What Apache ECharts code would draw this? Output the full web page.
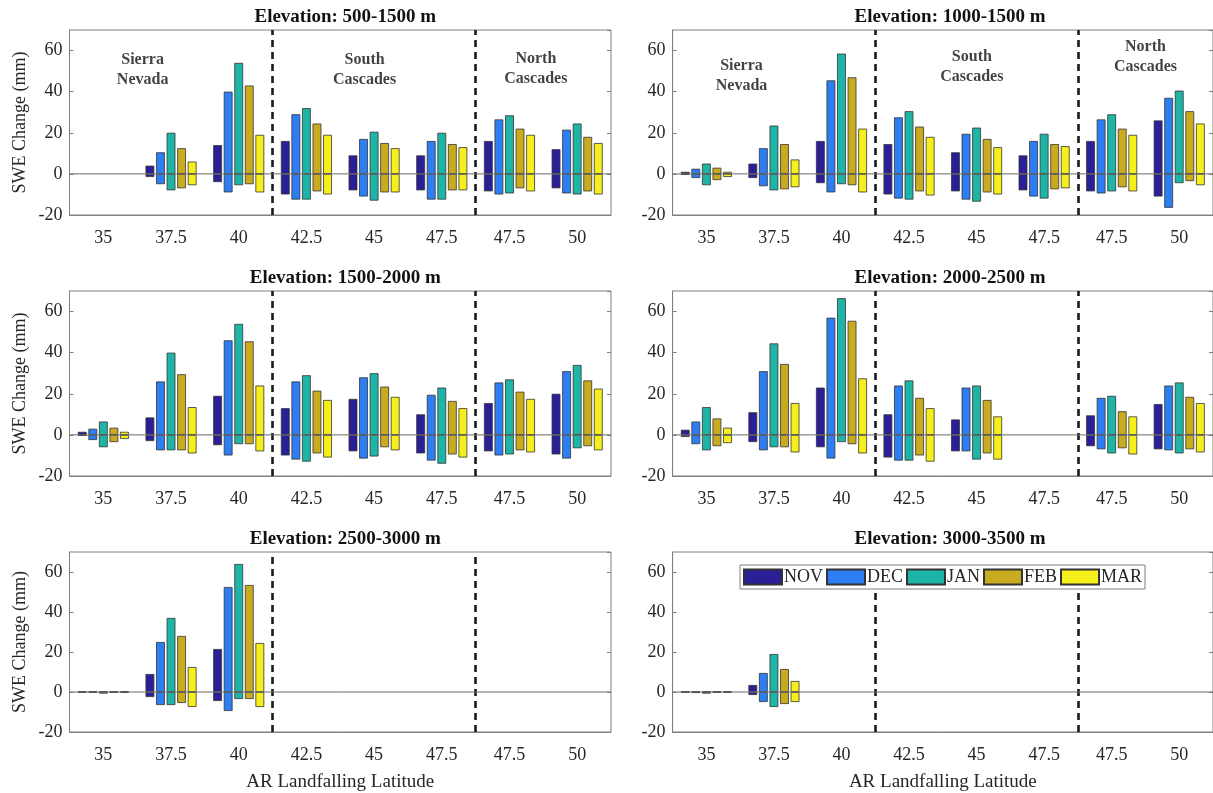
<!DOCTYPE html>
<html>
<head>
<meta charset="utf-8">
<script src="https://cdn.jsdelivr.net/npm/echarts@6/dist/echarts.min.js"></script>
<style>html,body{margin:0;padding:0;background:#fff}#c{width:1213px;height:793px}</style>
</head>
<body>
<div id="c"></div>
<script>
// ---- tick labels / categories ----
const categories = ['35', '37.5', '40', '42.5', '45', '47.5', '47.5', '50'];
const months = ['NOV', 'DEC', 'JAN', 'FEB', 'MAR'];
const panelTitles = ['Elevation: 500-1500 m', 'Elevation: 1000-1500 m', 'Elevation: 1500-2000 m',
                     'Elevation: 2000-2500 m', 'Elevation: 2500-3000 m', 'Elevation: 3000-3500 m'];
const yTicks = [-20, 0, 20, 40, 60];

// ---- series values: rows = NOV, DEC, JAN, FEB, MAR ; columns = categories ----
const pos_500_1500 = [
  [null, 4, 14, 16, 9, 9, 16, 12],
  [null, 10.5, 40, 29, 17, 16, 26.5, 21.5],
  [null, 20, 54, 32, 20.5, 20, 28.5, 24.5],
  [null, 12.5, 43, 24.5, 15, 14.5, 22, 18],
  [null, 6, 19, 19, 12.5, 13, 19, 15]
];
const neg_500_1500 = [
  [null, -1.5, -4, -10, -8, -8, -8.5, -7],
  [null, -5, -9, -12.5, -11, -12.5, -10, -9.5],
  [null, -8, -5.5, -12.5, -13, -12.5, -9.5, -10],
  [null, -7, -5, -8.5, -9, -8, -7, -8.5],
  [null, -5.5, -9, -10, -9, -8, -8.5, -10]
];
const pos_1000_1500 = [
  [1, 5, 16, 14.5, 10.5, 9, 16, 26],
  [2.5, 12.5, 45.5, 27.5, 19.5, 16, 26.5, 37],
  [5, 23.5, 58.5, 30.5, 22.5, 19.5, 29, 40.5],
  [3, 14.5, 47, 23, 17, 14.5, 22, 30.5],
  [1, 7, 22, 18, 13, 13.5, 19, 24.5]
];
const neg_1000_1500 = [
  [-0.5, -2, -4.5, -10, -8.5, -8, -8.5, -11],
  [-2, -6, -9, -12, -12.5, -11, -9.5, -16.5],
  [-5.5, -8, -5, -12.5, -13.5, -12, -8.5, -4.5],
  [-3, -7.5, -5.5, -8.5, -9, -7.5, -6.5, -3.5],
  [-1.5, -6.5, -9, -10.5, -10, -7, -8.5, -5.5]
];
const pos_1500_2000 = [
  [1.5, 8.5, 19, 13, 17.5, 10, 15.5, 20],
  [3, 26, 46, 26, 28, 19.5, 25.5, 31],
  [6.5, 40, 54, 29, 30, 23, 27, 34],
  [3.5, 29.5, 45.5, 21.5, 23.5, 16.5, 21, 26.5],
  [1.5, 13.5, 24, 17, 18.5, 13, 17.5, 22.5]
];
const neg_1500_2000 = [
  [-0.5, -3, -5, -10, -8, -9, -8, -9.5],
  [-2.5, -7.5, -10, -12, -11.5, -12.5, -10, -11.5],
  [-6, -7.5, -4.5, -13, -10.5, -14, -9.5, -6.5],
  [-3.5, -7.5, -4.5, -9, -6, -9.5, -7.5, -5.5],
  [-2, -9, -8, -11, -7.5, -11, -8.5, -7.5]
];
const pos_2000_2500 = [
  [2.5, 11, 23, 10, 7.5, null, 9.5, 15],
  [6.5, 31, 57, 24, 23, null, 18, 24],
  [13.5, 44.5, 66.5, 26.5, 24, null, 19, 25.5],
  [8, 34.5, 55.5, 18, 17, null, 11.5, 18.5],
  [3.5, 15.5, 27.5, 13, 9, null, 9, 15.5]
];
const neg_2000_2500 = [
  [-1, -3.5, -6, -11, -8, null, -5.5, -7],
  [-4.5, -7.5, -11.5, -12.5, -8, null, -7, -7.5],
  [-7.5, -6, -3.5, -12.5, -12, null, -9, -9],
  [-5.5, -6, -4.5, -10, -9, null, -6.5, -7],
  [-4, -8.5, -9, -13, -12, null, -9.5, -8.5]
];
const pos_2500_3000 = [
  [0.2, 9, 21.5, null, null, null, null, null],
  [0.3, 25, 52.5, null, null, null, null, null],
  [0.3, 37, 64, null, null, null, null, null],
  [0.2, 28, 53.5, null, null, null, null, null],
  [0.4, 12.5, 24.5, null, null, null, null, null]
];
const neg_2500_3000 = [
  [-0.3, -2.5, -4.5, null, null, null, null, null],
  [-0.4, -6.5, -9.5, null, null, null, null, null],
  [-0.8, -6.5, -3.5, null, null, null, null, null],
  [-0.3, -5.5, -3.5, null, null, null, null, null],
  [-0.3, -7.5, -7.5, null, null, null, null, null]
];
const pos_3000_3500 = [
  [0.2, 3.5, null, null, null, null, null, null],
  [0.3, 9.5, null, null, null, null, null, null],
  [0.3, 19, null, null, null, null, null, null],
  [0.2, 11.5, null, null, null, null, null, null],
  [0.4, 5.5, null, null, null, null, null, null]
];
const neg_3000_3500 = [
  [-0.3, -1.5, null, null, null, null, null, null],
  [-0.5, -5, null, null, null, null, null, null],
  [-0.8, -7.5, null, null, null, null, null, null],
  [-0.3, -6, null, null, null, null, null, null],
  [-0.3, -5, null, null, null, null, null, null]
];
const posData = [pos_500_1500, pos_1000_1500, pos_1500_2000, pos_2000_2500, pos_2500_3000, pos_3000_3500];
const negData = [neg_500_1500, neg_1000_1500, neg_1500_2000, neg_2000_2500, neg_2500_3000, neg_3000_3500];

// region boundaries (in category-index units) and region labels (top row)
const regionBounds = [2.5, 5.5];
const boundTop = [70, 70, 70, 70, 70, 52];
const regionLabels = [
  [{ value: [0.58, 50.5], name: 'Sierra\nNevada' }, { value: [3.86, 50.5], name: 'South\nCascades' }, { value: [6.39, 51], name: 'North\nCascades' }],
  [{ value: [0.52, 47.5], name: 'Sierra\nNevada' }, { value: [3.93, 52], name: 'South\nCascades' }, { value: [6.5, 57], name: 'North\nCascades' }]
];

// ---- styling / layout ----
const colors = ['#2b1f98', '#2d7ef2', '#1fb5a6', '#c9ab1f', '#f6ef1c'];
const FONT = 'Liberation Serif';
const TXT = '#262626';
const rowTops = [30, 291, 552];
const plotH = 185;
const colLefts = [69.5, 672.6];
const plotW = [541.5, 545];

const grids = [], xAxes = [], yAxes = [], series = [], titles = [];
for (let p = 0; p < 6; p++) {
  const r = Math.floor(p / 2), c = p % 2;
  grids.push({ left: colLefts[c], top: rowTops[r], width: plotW[c], height: plotH,
               show: true, borderColor: '#808080', borderWidth: 1, backgroundColor: '#fff' });
  titles.push({ text: panelTitles[p], left: colLefts[c] + plotW[c] / 2, top: rowTops[r] - 27, textAlign: 'center',
                textStyle: { fontFamily: FONT, fontWeight: 'bold', fontSize: 19, color: '#111' } });
  const bottomRow = r === 2;
  // bottom category axis
  xAxes.push({ type: 'category', gridIndex: p, data: categories, position: 'bottom',
    axisLine: { onZero: false, show: true, lineStyle: { color: '#808080' } },
    axisTick: { inside: true, alignWithLabel: true, length: 4, lineStyle: { color: '#808080' } },
    axisLabel: { fontFamily: FONT, fontSize: 18, color: TXT, margin: 14 },
    name: bottomRow ? 'AR Landfalling Latitude' : '', nameLocation: 'middle', nameGap: 41,
    nameTextStyle: { fontFamily: FONT, fontSize: 19, color: TXT } });
  // top mirrored ticks
  xAxes.push({ type: 'category', gridIndex: p, data: categories, position: 'top',
    axisLine: { show: false, onZero: false }, axisLabel: { show: false },
    axisTick: { inside: true, alignWithLabel: true, length: 4, lineStyle: { color: '#808080' } } });
  // hidden value axis for reference lines / annotations
  xAxes.push({ type: 'value', gridIndex: p, min: -0.5, max: 7.5, show: false,
    axisLine: { onZero: false } });
  yAxes.push({ type: 'value', gridIndex: p, min: -20, max: 70, interval: 20, position: 'left',
    axisLine: { show: true, onZero: false, lineStyle: { color: '#808080' } },
    axisTick: { show: true, inside: true, length: 4, lineStyle: { color: '#808080' } },
    splitLine: { show: false },
    axisLabel: { fontFamily: FONT, fontSize: 18, color: TXT, margin: 7, showMaxLabel: false,
                 formatter: v => (yTicks.indexOf(v) >= 0 ? String(v) : '') },
    name: c === 0 ? 'SWE Change (mm)' : '', nameLocation: 'middle', nameGap: 40, nameRotate: 90,
    nameTextStyle: { fontFamily: FONT, fontSize: 18, color: TXT } });
  yAxes.push({ type: 'value', gridIndex: p, min: -20, max: 70, interval: 20, position: 'right',
    axisLine: { show: false, onZero: false }, splitLine: { show: false }, axisLabel: { show: false },
    axisTick: { show: true, inside: true, length: 4, lineStyle: { color: '#808080' } } });

  for (let m = 0; m < 5; m++) {
    const common = { type: 'bar', name: months[m], xAxisIndex: 3 * p, yAxisIndex: 2 * p, stack: 'p' + p + 'm' + m,
      barWidth: 8.8, barGap: '20%', itemStyle: { color: colors[m], borderColor: '#333', borderWidth: 0.8 },
      emphasis: { disabled: true } };
    series.push(Object.assign({}, common, { data: posData[p][m] }));
    series.push(Object.assign({}, common, { data: negData[p][m] }));
  }
  // zero line + region separators
  series.push({ type: 'line', xAxisIndex: 3 * p + 2, yAxisIndex: 2 * p, data: [[-0.5, 0], [7.5, 0]],
    showSymbol: false, symbol: 'none', lineStyle: { color: '#6a6a6a', width: 1 }, z: 5, silent: true,
    markLine: { symbol: 'none', silent: true, label: { show: false },
      lineStyle: { color: '#1a1a1a', width: 2.6, type: [7, 5] },
      data: regionBounds.map(b => [{ coord: [b, -20] }, { coord: [b, boundTop[p]] }]) } });
  if (r === 0) {
    series.push({ type: 'scatter', xAxisIndex: 3 * p + 2, yAxisIndex: 2 * p, symbolSize: 0, silent: true,
      data: regionLabels[c],
      label: { show: true, position: 'inside', formatter: '{b}', fontFamily: FONT, fontWeight: 'bold',
               fontSize: 16, lineHeight: 20, color: '#111', align: 'center' } });
  }
}

const chart = echarts.init(document.getElementById('c'), null, { renderer: 'canvas' });
chart.setOption({
  animation: false,
  backgroundColor: '#fff',
  title: titles,
  legend: { data: months.map(n => ({ name: n, icon: 'rect' })), left: 740, top: 565, orient: 'horizontal',
    itemWidth: 38, itemHeight: 15, itemGap: 3,
    backgroundColor: '#fff', borderColor: '#808080', borderWidth: 1, padding: [3, 3], z: 10,
    textStyle: { fontFamily: FONT, fontSize: 18, color: TXT, padding: [0, 0, 0, -3] }, selectedMode: false },
  grid: grids, xAxis: xAxes, yAxis: yAxes, series: series
});
</script>
</body>
</html>
